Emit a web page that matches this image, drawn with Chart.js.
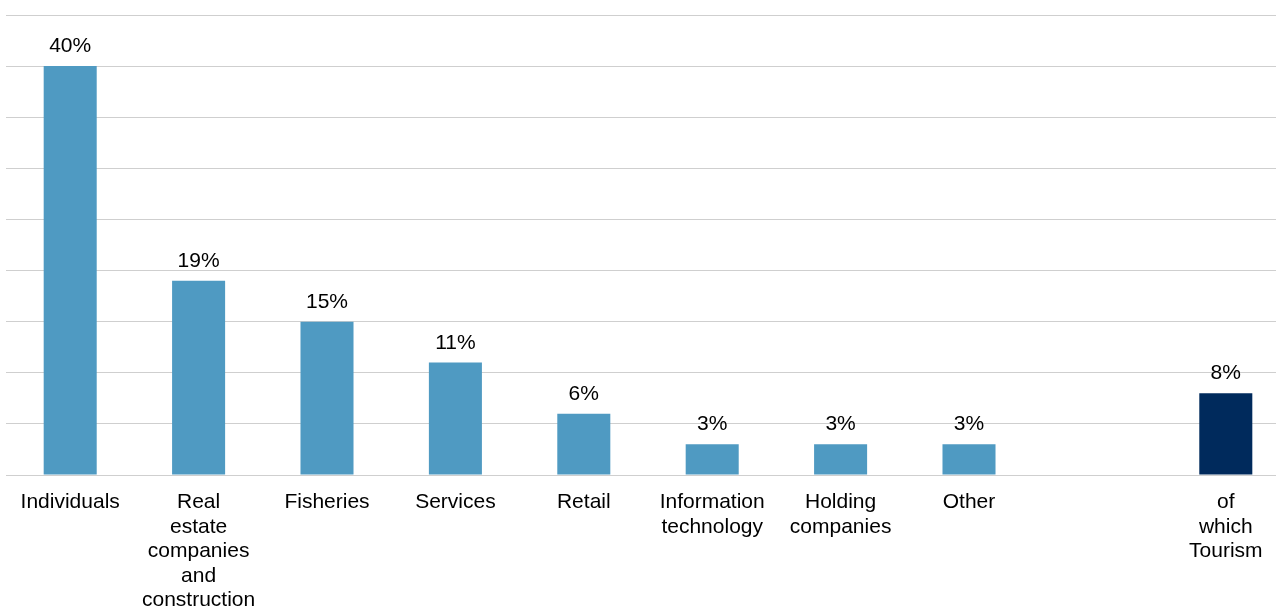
<!DOCTYPE html>
<html>
<head>
<meta charset="utf-8">
<title>Sector breakdown</title>
<script src="https://cdn.jsdelivr.net/npm/chart.js@4/dist/chart.umd.min.js"></script>
<style>
  html, body { margin: 0; padding: 0; background: #fff; overflow: hidden; }
  #wrap { position: relative; width: 1292px; height: 608px; }
</style>
</head>
<body>
<div id="wrap"><canvas id="sector-chart"></canvas></div>
<script>
// categories (one empty slot before the tourism sub-item)
const categories = [
  'Individuals',
  ['Real', 'estate', 'companies', 'and', 'construction'],
  'Fisheries',
  'Services',
  'Retail',
  ['Information', 'technology'],
  ['Holding', 'companies'],
  'Other',
  '',
  ['of', 'which', 'Tourism']
];

// share of lending, percent
const shares = [40, 19, 15, 11, 6, 3, 3, 3, null, 8];

// y axis range
const yMin = 0;
const yMax = 45;
const yStep = 5;

const mainColor = '#4f9ac2';
const subColor = '#002a5c';

// value labels above each bar
const valueLabels = {
  id: 'valueLabels',
  afterDatasetsDraw(chart) {
    const ctx = chart.ctx;
    const meta = chart.getDatasetMeta(0);
    ctx.save();
    ctx.font = '21px "Liberation Sans", Arial, sans-serif';
    ctx.fillStyle = '#000';
    ctx.textAlign = 'center';
    ctx.textBaseline = 'alphabetic';
    meta.data.forEach((bar, i) => {
      const v = shares[i];
      if (v === null) return;
      ctx.fillText(v + '%', bar.x, bar.y - 14);
    });
    ctx.restore();
  }
};

const ctx = document.getElementById('sector-chart');
new Chart(ctx, {
  type: 'bar',
  data: {
    labels: categories,
    datasets: [{
      data: shares,
      backgroundColor: shares.map((v, i) => i === shares.length - 1 ? subColor : mainColor),
      borderWidth: 0,
      categoryPercentage: 1,
      barPercentage: 0.413
    }]
  },
  options: {
    responsive: true,
    maintainAspectRatio: false,
    animation: false,
    layout: { padding: { left: 6, right: 2, top: 15, bottom: 0 } },
    plugins: {
      legend: { display: false },
      tooltip: { enabled: false }
    },
    scales: {
      x: {
        grid: { display: false },
        border: { display: false },
        ticks: {
          color: '#000',
          padding: 7,
          maxRotation: 0,
          autoSkip: false,
          font: { family: '"Liberation Sans", Arial, sans-serif', size: 21, lineHeight: 1.17 }
        },
        afterFit(scale) { scale.height = 133; }
      },
      y: {
        min: yMin,
        max: yMax,
        ticks: { display: false, stepSize: yStep },
        grid: { color: '#cfcfcf', lineWidth: 1, drawTicks: false },
        border: { display: false }
      }
    }
  },
  plugins: [valueLabels]
});
</script>
</body>
</html>
